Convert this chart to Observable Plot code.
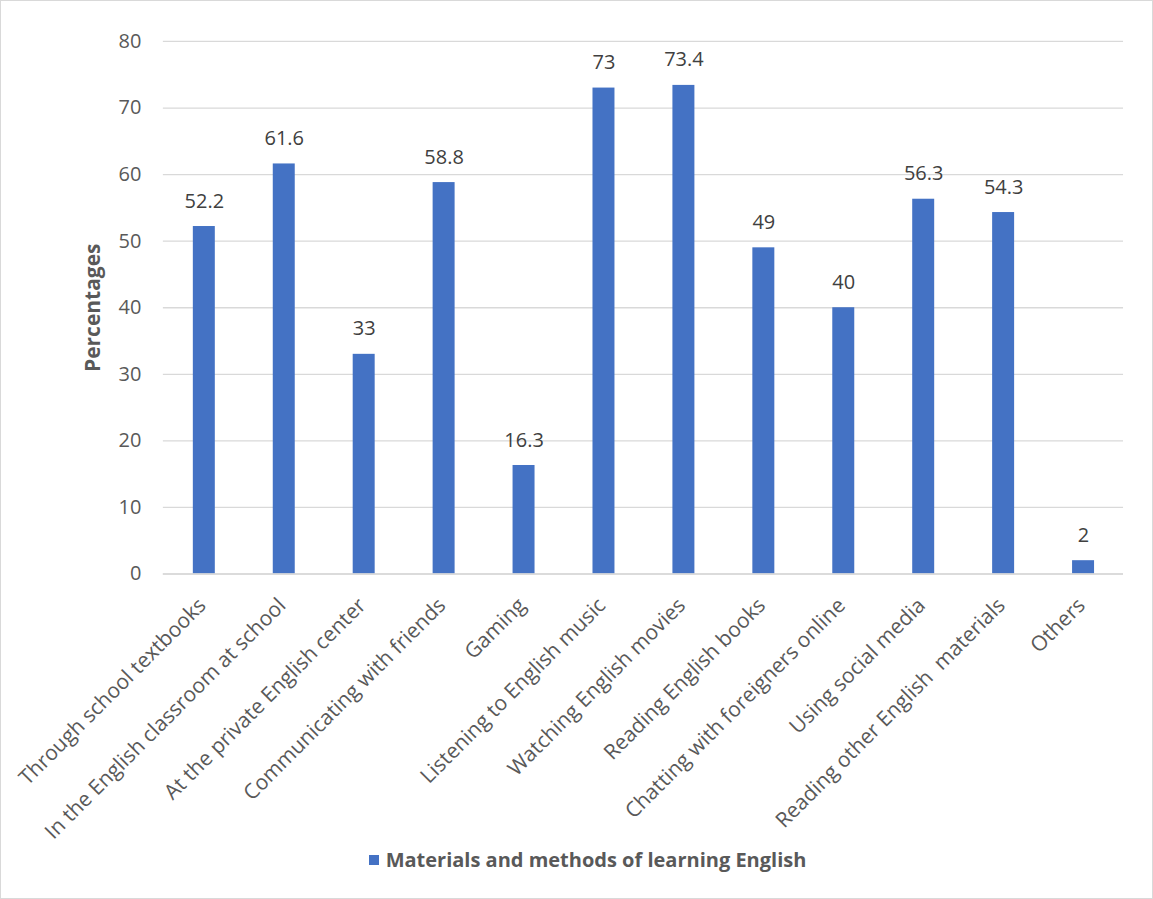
<!DOCTYPE html>
<html>
<head>
<meta charset="utf-8">
<script src="https://cdn.jsdelivr.net/npm/d3@7"></script>
<script src="https://cdn.jsdelivr.net/npm/@observablehq/plot@0.6"></script>
<style>
  html, body { margin: 0; padding: 0; background: #fff; }
  #frame { position: relative; width: 1151px; height: 897px; border: 1px solid #d9d9d9; box-sizing: content-box; font-family: "Open Sans", sans-serif; overflow: hidden; }
  #chart { position: absolute; left: -1px; top: -1px; }
  #legend { position: absolute; left: 10px; width: 1153px; top: 845px; text-align: center; font-family: "Open Sans", sans-serif; font-weight: bold; font-size: 20px; color: #595959; }
  #legend .sw { display: inline-block; width: 10px; height: 10px; background: #4472C4; margin-right: 7px; vertical-align: 2px; }
</style>
</head>
<body>
<div id="frame">
  <div id="chart"></div>
  <div id="legend"><span class="sw"></span>Materials and methods of learning English</div>
</div>
<script>
const categories = [
  "Through school textbooks",
  "In the English classroom at school",
  "At the private English center",
  "Communicating with friends",
  "Gaming",
  "Listening to English music",
  "Watching English movies",
  "Reading English books",
  "Chatting with foreigners online",
  "Using social media",
  "Reading other English  materials",
  "Others"
];
const values = [52.2, 61.6, 33, 58.8, 16.3, 73, 73.4, 49, 40, 56.3, 54.3, 2];
const yTicks = [0, 10, 20, 30, 40, 50, 60, 70, 80];
const seriesName = "Materials and methods of learning English";
const yLabel = "Percentages";

const data = categories.map((c, i) => ({category: c, value: values[i]}));

const chart = Plot.plot({
  width: 1153,
  height: 899,
  marginTop: 41,
  marginBottom: 325,
  marginLeft: 163,
  marginRight: 29,
  style: {fontFamily: "Open Sans, sans-serif", background: "transparent", overflow: "visible"},
  x: {domain: categories, paddingInner: 0.725, paddingOuter: 0.3625, label: null},
  y: {domain: [0, 80], ticks: yTicks, label: null},
  marks: [
    Plot.gridY(yTicks, {stroke: "#d9d9d9", strokeOpacity: 1, strokeWidth: 1.3}),
    Plot.barY(data, {x: "category", y: "value", fill: "#4472C4"}),
    Plot.ruleY([0], {stroke: "#d9d9d9", strokeWidth: 1.5}),
    Plot.text(data, {x: "category", y: "value", text: d => String(d.value), lineAnchor: "bottom", dy: -19, fontSize: 20, fill: "#404040"}),
    Plot.axisY(yTicks, {tickSize: 0, tickPadding: 22, fontSize: 20, color: "#595959", label: null}),
    Plot.axisX({tickSize: 0, tickRotate: -45, fontSize: 21, color: "#595959", tickPadding: 28, label: null, dx: -2}),
    Plot.text([yLabel], {frameAnchor: "left", textAnchor: "middle", dx: -70, rotate: -90, fontSize: 21, fontWeight: "bold", fill: "#595959"})
  ]
});
document.getElementById("chart").appendChild(chart);
</script>
</body>
</html>
